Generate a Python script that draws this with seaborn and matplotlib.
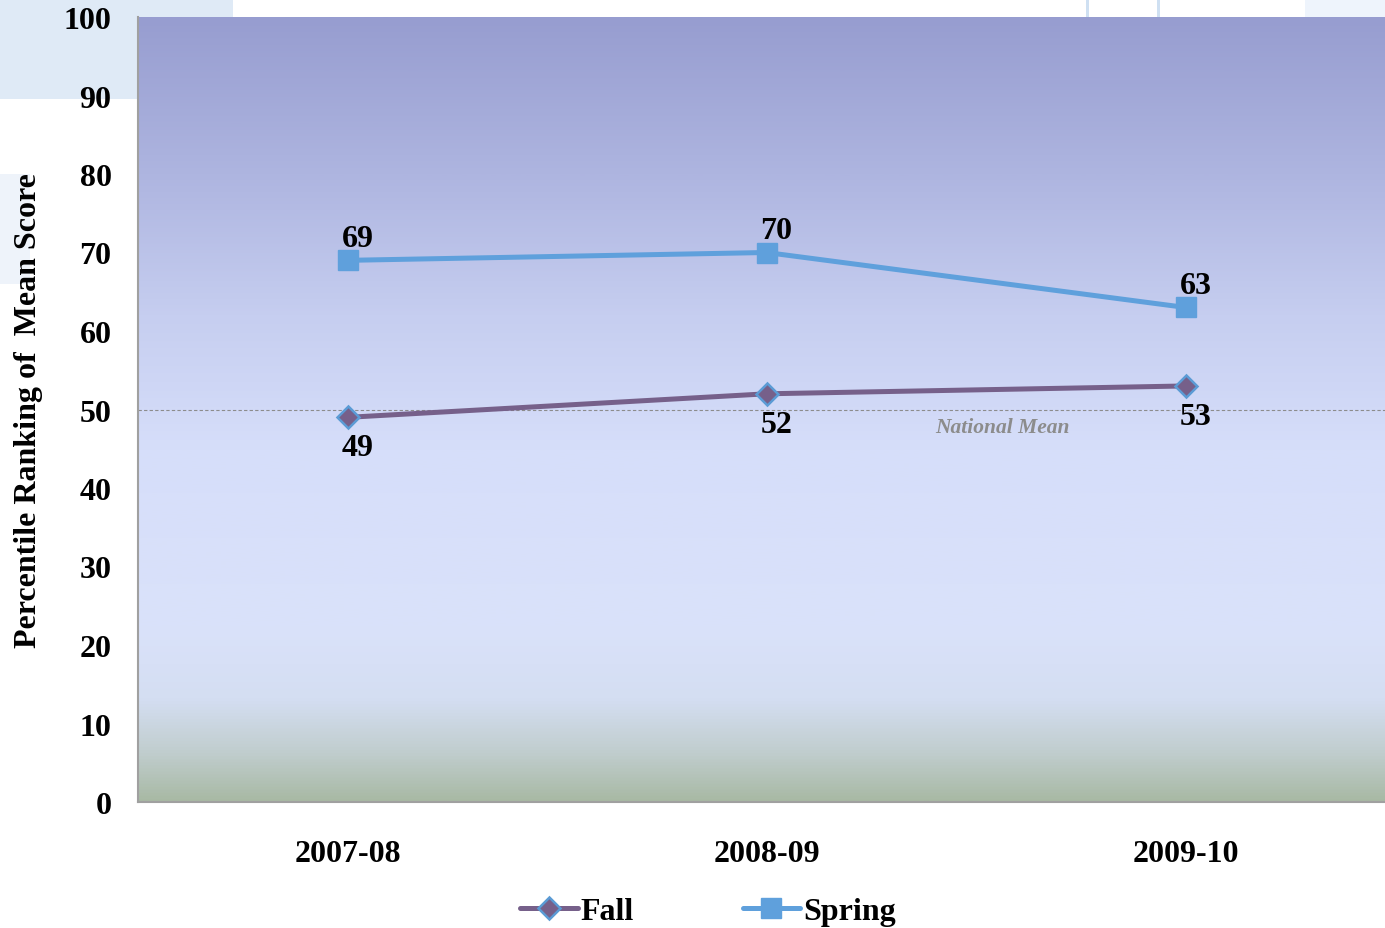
import numpy as np
import pandas as pd
import matplotlib
matplotlib.use("Agg")
import matplotlib.pyplot as plt
from matplotlib.colors import LinearSegmentedColormap
from matplotlib.lines import Line2D
from matplotlib.patches import Rectangle
import seaborn as sns

years = ["2007-08", "2008-09", "2009-10"]
fall = [49, 52, 53]
spring = [69, 70, 63]
series_names = ["Fall", "Spring"]
y_ticks = [0, 10, 20, 30, 40, 50, 60, 70, 80, 90, 100]
national_mean = 50

sns.set_theme(style="white")
plt.rcParams['font.family'] = ['Liberation Serif', 'DejaVu Serif']
plt.rcParams['text.color'] = 'black'
plt.rcParams['xtick.color'] = 'black'
plt.rcParams['ytick.color'] = 'black'
plt.rcParams['axes.labelcolor'] = 'black'

W, H = 1385, 929
fig = plt.figure(figsize=(W / 100, H / 100), dpi=100)

# slide background artifacts (behind everything)
for (x0, y0, w, h, c) in [(0, 0, 233, 100, "#DFEAF6"), (1305, 0, 80, 18, "#EEF4FC"),
                          (0, 175, 30, 110, "#EEF3FA"), (1086, 0, 3, 18, "#CFE0F2"),
                          (1157, 0, 3, 18, "#CFE0F2")]:
    fig.patches.append(Rectangle((x0 / W, 1 - (y0 + h) / H), w / W, h / H,
                                 transform=fig.transFigure, facecolor=c,
                                 edgecolor="none", zorder=-10))

left, right, top, bottom = 138, 1395, 18, 803
ax = fig.add_axes([left / W, 1 - bottom / H, (right - left) / W, (bottom - top) / H])
ax.set_facecolor("none")

cmap = LinearSegmentedColormap.from_list("bg", [
    (0.00, (168/255, 185/255, 164/255)),
    (0.06, (192/255, 205/255, 205/255)),
    (0.13, (212/255, 222/255, 242/255)),
    (0.22, (218/255, 226/255, 250/255)),
    (0.45, (214/255, 222/255, 250/255)),
    (0.62, (198/255, 206/255, 240/255)),
    (0.80, (174/255, 181/255, 224/255)),
    (1.00, (151/255, 157/255, 208/255)),
])
grad = np.linspace(0, 1, 512).reshape(-1, 1)
ax.imshow(grad, extent=[-0.5, 2.5, 0, 100], origin="lower", aspect="auto", cmap=cmap, zorder=0)

df = pd.DataFrame({"x": list(range(len(years))) * 2,
                   "value": fall + spring,
                   "series": [series_names[0]] * 3 + [series_names[1]] * 3})

fall_color = "#76608A"
spring_color = "#5FA0DC"
edge_blue = "#5B9BD5"

sns.lineplot(data=df[df.series == "Fall"], x="x", y="value", ax=ax, color=fall_color,
             linewidth=3.6, marker="D", markersize=11, markerfacecolor=fall_color,
             markeredgecolor=edge_blue, markeredgewidth=1.8, zorder=3, legend=False)
sns.lineplot(data=df[df.series == "Spring"], x="x", y="value", ax=ax, color=spring_color,
             linewidth=3.6, marker="s", markersize=14, markerfacecolor=spring_color,
             markeredgecolor=spring_color, markeredgewidth=1, zorder=3, legend=False)

ax.axhline(national_mean, color="#8C8C8C", linestyle=(0, (3, 2)), linewidth=0.8, zorder=2)
ax.text(1.562, 47.8, "National Mean", fontsize=15.5, fontstyle="italic", fontweight="bold",
        color="#8C8C8C", ha="center", va="center", zorder=4)

for i, v in enumerate(spring):
    ax.text(i + 0.024, v + 2.75, str(v), fontsize=23, fontweight="bold", color="black",
            ha="center", va="center", zorder=5)
for i, v in enumerate(fall):
    ax.text(i + 0.024, v - 3.9, str(v), fontsize=23, fontweight="bold", color="black",
            ha="center", va="center", zorder=5)

ax.set_xlim(-0.5, 2.5)
ax.set_ylim(0, 100)
ax.set_yticks(y_ticks)
ax.set_yticklabels([str(t) for t in y_ticks], fontsize=23, fontweight="bold")
ax.set_xticks([-0.5, 0.5, 1.5, 2.5])
ax.set_xticklabels([])
ax.set_xticks(range(len(years)), minor=True)
ax.set_xticklabels(years, minor=True, fontsize=23, fontweight="bold")
ax.tick_params(axis="x", which="minor", length=0, pad=27)
ax.tick_params(axis="x", which="major", length=6, width=1.5, color="#A0A0A0", direction="out")
ax.tick_params(axis="y", length=6, width=1.5, color="#A0A0A0", direction="out", pad=13)
ax.set_xlabel("")
ax.set_ylabel("Percentile Ranking of  Mean Score", fontsize=23, fontweight="bold")
ax.yaxis.set_label_coords(-0.0755, 0.5)
for s in ["top", "right"]:
    ax.spines[s].set_visible(False)
for s in ["left", "bottom"]:
    ax.spines[s].set_color("#A0A0A0")
    ax.spines[s].set_linewidth(1.5)
ax.grid(False)

handles = [
    Line2D([0], [0], color=fall_color, linewidth=3.6, marker="D", markersize=11,
           markerfacecolor=fall_color, markeredgecolor=edge_blue, markeredgewidth=1.8),
    Line2D([0], [0], color=spring_color, linewidth=3.6, marker="s", markersize=14,
           markerfacecolor=spring_color, markeredgecolor=spring_color),
]
fig.legend(handles, series_names, loc="center", bbox_to_anchor=(708 / W, 1 - 912 / H),
           ncol=2, frameon=False, prop={"size": 23, "weight": "bold"},
           handlelength=1.8, handletextpad=0.1, columnspacing=3.4)

fig.savefig("out.png", dpi=100)
